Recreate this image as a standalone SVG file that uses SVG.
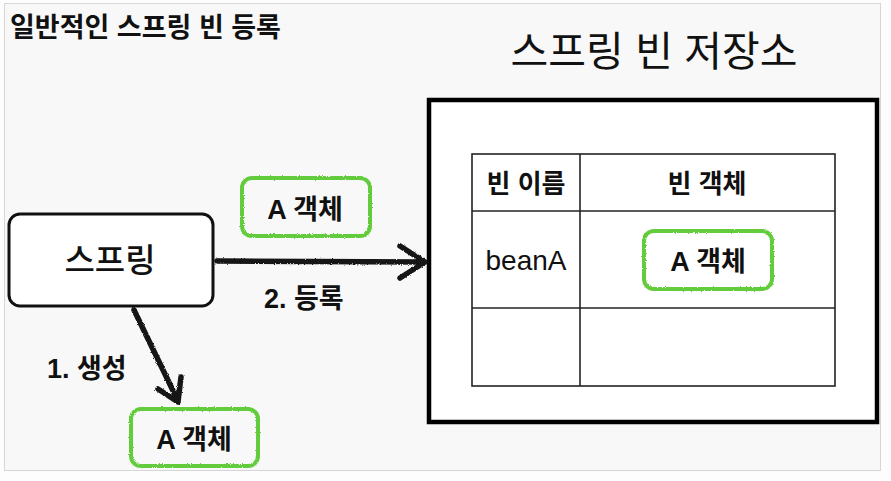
<svg xmlns="http://www.w3.org/2000/svg" width="891" height="481" viewBox="0 0 891 481">
<defs>
<style>
text{font-family:"Liberation Sans","Noto Sans CJK KR",sans-serif;fill:#111}
.b{font-weight:bold}
.green{fill:none;stroke:#62cc3e;stroke-width:4;filter:url(#rough)}
.arrow{fill:none;stroke:#161616;stroke-width:5.5;stroke-linecap:round;stroke-linejoin:round;filter:url(#rough)}
.cell{fill:none;stroke:#222;stroke-width:1.6}
</style>
<filter id="rough" x="-10%" y="-10%" width="120%" height="120%">
<feTurbulence type="fractalNoise" baseFrequency="0.9" numOctaves="2" seed="3" result="n"/>
<feDisplacementMap in="SourceGraphic" in2="n" scale="2.5" xChannelSelector="R" yChannelSelector="G"/>
</filter>
</defs>
<rect x="0" y="0" width="891" height="481" fill="#fdfdfd"/>
<rect x="4.5" y="3.5" width="876" height="467" fill="#f8f8f8" stroke="#d6d6d6" stroke-width="1"/>

<text class="b" x="10" y="37" font-size="27">일반적인 스프링 빈 등록</text>

<g id="storage">
<text x="654" y="66" font-size="41" text-anchor="middle">스프링 빈 저장소</text>
<rect x="429" y="100" width="448" height="322" fill="#fff" stroke="#000" stroke-width="4.5"/>
</g>

<g id="table">
<rect class="cell" x="472" y="154" width="363" height="232" fill="#fff"/>
<line class="cell" x1="580" y1="154" x2="580" y2="386"/>
<line class="cell" x1="472" y1="211" x2="835" y2="211"/>
<line class="cell" x1="472" y1="308" x2="835" y2="308"/>
<text class="b" x="526" y="193" font-size="26" text-anchor="middle">빈 이름</text>
<text class="b" x="707" y="193" font-size="26" text-anchor="middle">빈 객체</text>
<text x="526" y="270" font-size="28" text-anchor="middle">beanA</text>
</g>

<g id="objInTable">
<rect class="green" x="644" y="231" width="128" height="58" rx="10"/>
<text class="b" x="708" y="271" font-size="27" text-anchor="middle">A 객체</text>
</g>

<g id="spring">
<rect x="9" y="214" width="204" height="92" rx="11" fill="#fff" stroke="#111" stroke-width="3"/>
<text x="110" y="272" font-size="33" text-anchor="middle" font-weight="500">스프링</text>
</g>

<g id="objTop">
<rect class="green" x="242" y="178" width="128" height="58" rx="10"/>
<text class="b" x="305" y="219" font-size="27" text-anchor="middle">A 객체</text>
</g>

<g id="objBottom">
<rect class="green" x="131" y="409" width="127" height="57" rx="10"/>
<text class="b" x="194" y="449" font-size="27" text-anchor="middle">A 객체</text>
</g>

<g id="connectors">
<path class="arrow" d="M217 261 L424 262 M400 246 L425 262 L400 278"/>
<path class="arrow" d="M134 310 L178 401 M158 389 L178 402 L181 377"/>
<text class="b" x="264" y="308" font-size="27">2. 등록</text>
<text class="b" x="47" y="378" font-size="27">1. 생성</text>
</g>
</svg>
